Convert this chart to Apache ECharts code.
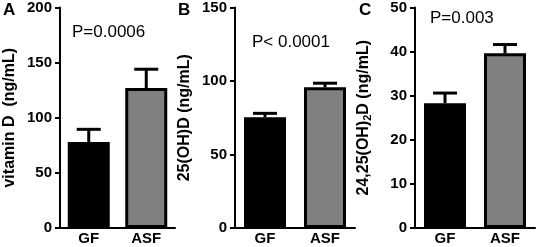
<!DOCTYPE html>
<html>
<head>
<meta charset="utf-8">
<script src="https://cdn.jsdelivr.net/npm/echarts@6/dist/echarts.min.js"></script>
<style>
  html, body { margin: 0; padding: 0; background: #fff; }
  #chart { width: 536px; height: 247px; }
</style>
</head>
<body>
<div id="chart"></div>
<script>
// groups on the x axis
const groups = ['GF', 'ASF'];

// panel A: vitamin D
const vitD = [78, 127];
const vitDUpper = [89.5, 144];
// panel B: 25(OH)D
const ohD = [75.4, 95.7];
const ohDUpper = [78, 98.5];
// panel C: 24,25(OH)2D
const dihD = [28.3, 39.6];
const dihDUpper = [30.6, 41.6];

const pLabels = ['P=0.0006', 'P< 0.0001', 'P=0.003'];

const myEchart = echarts.init(document.getElementById('chart'));

const font = 'Liberation Sans, Arial, sans-serif';
const barFills = ['#000000', '#808080'];

function xAx(i) {
  return {
    type: 'category', gridIndex: i, data: groups,
    axisLine: { lineStyle: { color: '#000', width: 2 } },
    axisTick: { show: false },
    axisLabel: { color: '#000', fontWeight: 'bold', fontSize: 15, fontFamily: font, margin: 3 }
  };
}
function yAx(i, max, interval, name) {
  return {
    type: 'value', gridIndex: i, min: 0, max: max, interval: interval,
    name: name, nameLocation: 'middle', nameRotate: 90, nameGap: 42,
    nameTextStyle: {
      color: '#000', fontWeight: 'bold', fontSize: 16, fontFamily: font,
      rich: { sub: { fontSize: 11, fontWeight: 'bold', color: '#000', padding: [7, 0, 0, 0] } }
    },
    splitLine: { show: false },
    axisLine: { show: true, lineStyle: { color: '#000', width: 2 } },
    axisTick: { show: true, length: 5, lineStyle: { color: '#000', width: 2 } },
    axisLabel: { color: '#000', fontWeight: 'bold', fontSize: 15, fontFamily: font, margin: 8 }
  };
}
function bars(i, vals) {
  return {
    type: 'bar', xAxisIndex: i, yAxisIndex: i, barWidth: 42, z: 3,
    data: vals.map((v, k) => ({ value: v, itemStyle: { color: barFills[k] } })),
    itemStyle: { borderColor: '#000', borderWidth: 3 }
  };
}
function errs(i, vals, upper) {
  return {
    type: 'custom', xAxisIndex: i, yAxisIndex: i, z: 2,
    data: vals.map((v, k) => [k, v, upper[k]]),
    renderItem(params, api) {
      const lo = api.coord([api.value(0), api.value(1)]);
      const hi = api.coord([api.value(0), api.value(2)]);
      const cap = 12;
      const st = { stroke: '#000', lineWidth: 3 };
      return {
        type: 'group',
        children: [
          { type: 'line', shape: { x1: lo[0], y1: lo[1], x2: hi[0], y2: hi[1] }, style: st },
          { type: 'line', shape: { x1: hi[0] - cap, y1: hi[1], x2: hi[0] + cap, y2: hi[1] }, style: st }
        ]
      };
    }
  };
}

function txt(left, top, s, bold, size) {
  return {
    type: 'text', left: left, top: top,
    style: { text: s, fill: '#000', font: (bold ? 'bold ' : '') + size + 'px ' + font }
  };
}

myEchart.setOption({
  animation: false,
  backgroundColor: '#fff',
  grid: [
    { left: 60, right: 361, top: 7, bottom: 19 },
    { left: 235, right: 181, top: 7, bottom: 19 },
    { left: 415, right: 1, top: 7, bottom: 19 }
  ],
  xAxis: [xAx(0), xAx(1), xAx(2)],
  yAxis: [
    yAx(0, 200, 50, 'vitamin D  (ng/mL)'),
    yAx(1, 150, 50, '25(OH)D (ng/mL)'),
    yAx(2, 50, 10, '24,25(OH){sub|2}D (ng/mL)')
  ],
  series: [
    bars(0, vitD), errs(0, vitD, vitDUpper),
    bars(1, ohD), errs(1, ohD, ohDUpper),
    bars(2, dihD), errs(2, dihD, dihDUpper)
  ],
  graphic: [
    txt(3, 2, 'A', true, 17),
    txt(178, 2, 'B', true, 17),
    txt(359, 2, 'C', true, 17),
    txt(72, 24, pLabels[0], false, 17),
    txt(252, 34, pLabels[1], false, 17),
    txt(430, 10, pLabels[2], false, 17)
  ]
});
</script>
</body>
</html>
